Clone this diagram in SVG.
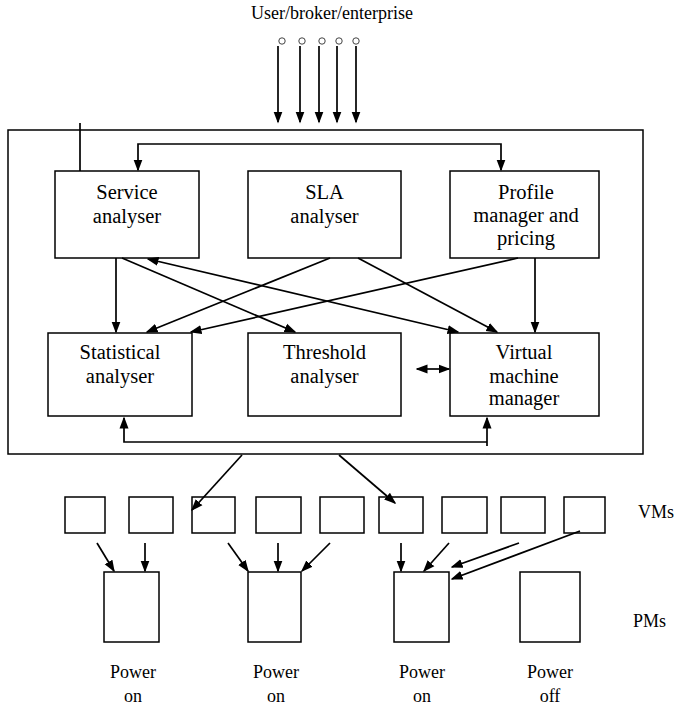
<svg xmlns="http://www.w3.org/2000/svg" width="676" height="707" viewBox="0 0 676 707">
<style>
.box{fill:#fff;stroke:#000;stroke-width:1.5}
.ln{fill:none;stroke:#000;stroke-width:1.7}
.arr{fill:none;stroke:#000;stroke-width:1.7;marker-end:url(#ah)}
.dbl{fill:none;stroke:#000;stroke-width:1.7;marker-end:url(#ah);marker-start:url(#ah)}
text{font-family:'Liberation Serif','Tinos','Times New Roman','DejaVu Serif',serif;fill:#000}
.t{font-size:20.5px;text-anchor:middle}
.l{font-size:18px}
.m{text-anchor:middle}
.c{fill:#fff;stroke:#444;stroke-width:1}
</style>
<defs>
<marker id="ah" markerUnits="userSpaceOnUse" markerWidth="12" markerHeight="10" viewBox="0 0 12 10" refX="10.5" refY="5" orient="auto-start-reverse">
<path d="M0,0.5 L12,5 L0,9.5 z" fill="#000"/>
</marker>
</defs>

<g id="label-user">
<text class="l m" x="332" y="19" font-family="Liberation Serif, serif">User/broker/enterprise</text>
<circle class="c" cx="282" cy="41" r="3.2"/>
<circle class="c" cx="302" cy="41" r="3.2"/>
<circle class="c" cx="322" cy="41" r="3.2"/>
<circle class="c" cx="339" cy="41" r="3.2"/>
<circle class="c" cx="356" cy="41" r="3.2"/>
</g>

<g id="outer">
<rect class="box" x="8" y="130" width="635" height="324"/>
</g>

<g id="service"><rect class="box" x="55" y="171" width="144" height="87"/>
<text class="t" x="127" y="199">Service</text><text class="t" x="127" y="223">analyser</text></g>
<g id="sla"><rect class="box" x="248" y="171" width="153" height="87"/>
<text class="t" x="324.5" y="199">SLA</text><text class="t" x="324.5" y="223">analyser</text></g>
<g id="profile"><rect class="box" x="450" y="171" width="149" height="87"/>
<text class="t" x="526" y="199">Profile</text><text class="t" x="526" y="222">manager and</text><text class="t" x="526" y="245">pricing</text></g>
<g id="statistical"><rect class="box" x="48" y="333" width="144" height="83"/>
<text class="t" x="120" y="359">Statistical</text><text class="t" x="120" y="383">analyser</text></g>
<g id="threshold"><rect class="box" x="248" y="333" width="153" height="83"/>
<text class="t" x="324.5" y="359">Threshold</text><text class="t" x="324.5" y="383">analyser</text></g>
<g id="vmm"><rect class="box" x="450" y="333" width="149" height="83"/>
<text class="t" x="524" y="359">Virtual</text><text class="t" x="524" y="383">machine</text><text class="t" x="524" y="405">manager</text></g>

<g id="vms">
<rect class="box" x="65" y="497" width="40" height="36"/>
<rect class="box" x="129" y="497" width="44" height="36"/>
<rect class="box" x="192" y="497" width="43" height="36"/>
<rect class="box" x="256" y="497" width="45" height="36"/>
<rect class="box" x="320" y="497" width="44" height="36"/>
<rect class="box" x="379" y="497" width="44" height="36"/>
<rect class="box" x="442" y="497" width="45" height="36"/>
<rect class="box" x="501" y="497" width="44" height="36"/>
<rect class="box" x="564" y="497" width="41" height="36"/>
<text class="l" x="638" y="518">VMs</text>
</g>

<g id="pms">
<rect class="box" x="104" y="572" width="55" height="70"/>
<rect class="box" x="248" y="572" width="53" height="70"/>
<rect class="box" x="394" y="572" width="55" height="70"/>
<rect class="box" x="520" y="572" width="60" height="70"/>
<text class="l" x="633" y="627">PMs</text>
<text class="l m" x="133" y="678">Power</text><text class="l m" x="133" y="702">on</text>
<text class="l m" x="276" y="678">Power</text><text class="l m" x="276" y="702">on</text>
<text class="l m" x="422" y="678">Power</text><text class="l m" x="422" y="702">on</text>
<text class="l m" x="550" y="678">Power</text><text class="l m" x="550" y="702">off</text>
</g>

<g id="connectors">
<line class="arr" x1="278" y1="46" x2="278" y2="122"/>
<line class="arr" x1="300" y1="46" x2="300" y2="122"/>
<line class="arr" x1="319" y1="46" x2="319" y2="122"/>
<line class="arr" x1="337" y1="46" x2="337" y2="122"/>
<line class="arr" x1="356" y1="46" x2="356" y2="122"/>
<line class="ln" x1="80" y1="123" x2="80" y2="171"/>
<polyline class="ln" points="138,170 138,144 501,144 501,170" style="marker-start:url(#ah);marker-end:url(#ah)"/>
<line class="arr" x1="116" y1="258" x2="116" y2="332"/>
<line class="arr" x1="122" y1="258" x2="295" y2="332"/>
<line class="arr" x1="330" y1="258" x2="147" y2="332"/>
<line class="arr" x1="358" y1="258" x2="497" y2="332"/>
<line class="arr" x1="518" y1="258" x2="191" y2="332"/>
<line class="arr" x1="535" y1="258" x2="535" y2="332"/>
<line class="dbl" x1="148" y1="259" x2="458" y2="332"/>
<line class="dbl" x1="417" y1="369" x2="449" y2="369"/>
<polyline class="ln" points="124,418 124,442 487,442" style="marker-start:url(#ah)"/>
<line class="arr" x1="487" y1="446" x2="487" y2="418"/>
<line class="arr" x1="242" y1="455" x2="192" y2="510"/>
<line class="arr" x1="339" y1="455" x2="395" y2="503"/>
<line class="arr" x1="97" y1="543" x2="114" y2="571"/>
<line class="arr" x1="145" y1="543" x2="145" y2="571"/>
<line class="arr" x1="228" y1="543" x2="248" y2="571"/>
<line class="arr" x1="278" y1="543" x2="278" y2="571"/>
<line class="arr" x1="330" y1="543" x2="302" y2="571"/>
<line class="arr" x1="401" y1="543" x2="401" y2="571"/>
<line class="arr" x1="449" y1="543" x2="424" y2="571"/>
<line class="arr" x1="519" y1="543" x2="452" y2="567"/>
<line class="arr" x1="580" y1="531" x2="452" y2="579"/>
</g>
</svg>
